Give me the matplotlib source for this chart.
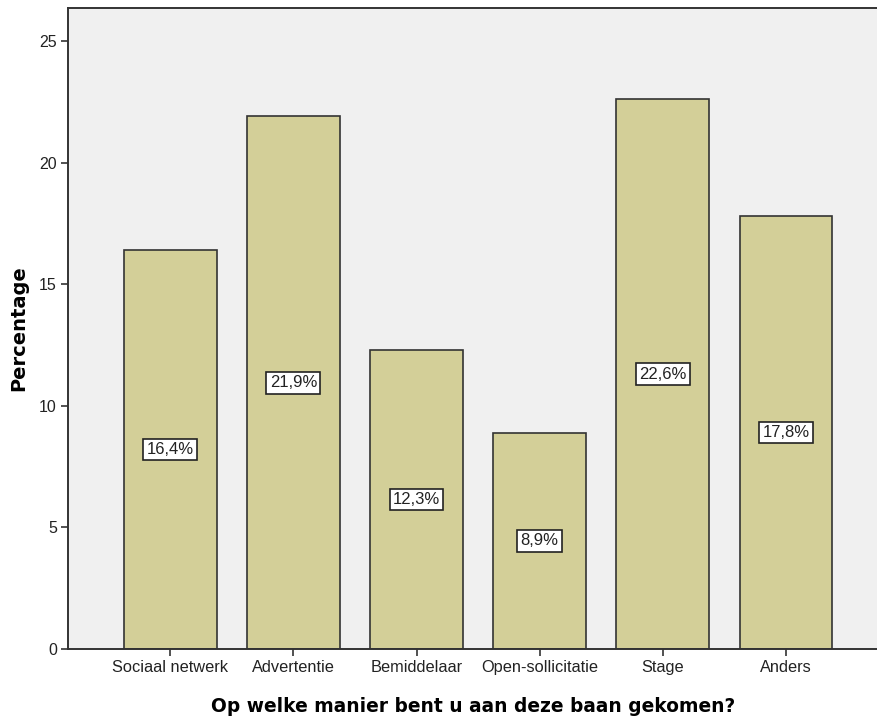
import matplotlib.pyplot as plt

categories = ['Sociaal netwerk', 'Advertentie', 'Bemiddelaar', 'Open-sollicitatie', 'Stage', 'Anders']
percentages = [16.4, 21.9, 12.3, 8.9, 22.6, 17.8]
value_labels = ['16,4%', '21,9%', '12,3%', '8,9%', '22,6%', '17,8%']
y_ticks = [0, 5, 10, 15, 20, 25]

plt.rcParams['font.family'] = ['Liberation Sans', 'DejaVu Sans']

fig = plt.figure(figsize=(8.78, 7.18), dpi=100)
ax = fig.add_axes([68 / 878, 69 / 718, 1 - 68 / 878, (649 - 8) / 718])
ax.set_facecolor('#F0F0F0')

x = list(range(len(categories)))
ax.bar(x, percentages, width=0.755, color='#D3CF98', edgecolor='#333333', linewidth=1.2, zorder=2)

for xi, v, lab in zip(x, percentages, value_labels):
    ax.text(xi, v / 2, lab, ha='center', va='center', fontsize=12, color='#222222', zorder=3,
            bbox=dict(boxstyle='square,pad=0.2', facecolor='white', edgecolor='#222222', linewidth=1.2))

ax.set_xlim(-0.83, 5.747)
ax.set_ylim(0, 26.36)
ax.set_xticks(x)
ax.set_xticklabels(categories, fontsize=11.8, color='#222222')
ax.set_yticks(y_ticks)
ax.set_yticklabels([str(t) for t in y_ticks], fontsize=11.5, color='#222222')
ax.tick_params(direction='out', length=5, width=1.2, color='#333333', pad=3)

for side in ['left', 'top', 'bottom']:
    ax.spines[side].set_color('#333333')
    ax.spines[side].set_linewidth(1.4)
ax.spines['right'].set_visible(False)

ax.set_ylabel('Percentage', fontsize=14, fontweight='bold', family='DejaVu Sans', labelpad=8)
ax.set_xlabel('Op welke manier bent u aan deze baan gekomen?', fontsize=13.4, fontweight='bold',
              family='DejaVu Sans', labelpad=16)

fig.savefig('out.png', dpi=100)
